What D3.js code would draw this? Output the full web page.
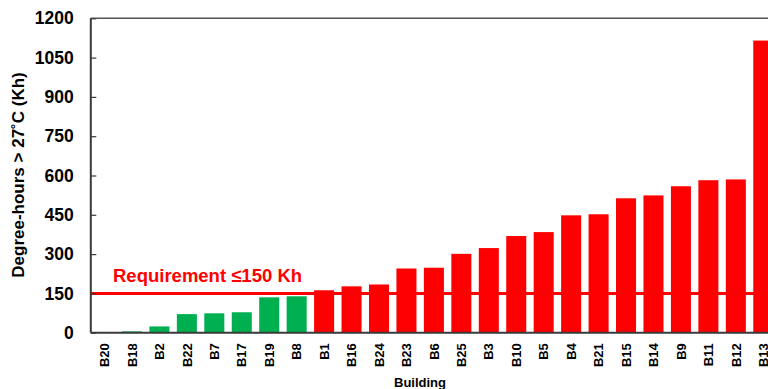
<!DOCTYPE html>
<html>
<head>
<meta charset="utf-8">
<script src="https://cdn.jsdelivr.net/npm/d3@7"></script>
<style>
  html, body { margin: 0; padding: 0; background: #fff; overflow: hidden; }
  svg { display: block; font-family: "Liberation Sans", Arial, sans-serif; }
</style>
</head>
<body>
<svg id="chart" width="768" height="389"></svg>
<script>
// ---- data ----
const buildings = ["B20","B18","B2","B22","B7","B17","B19","B8","B1","B16","B24","B23","B6","B25","B3","B10","B5","B4","B21","B15","B14","B9","B11","B12","B13"];
const degreeHours = [1,5,24,71,74,78,135,139,162,177,184,245,248,301,323,369,384,448,452,513,524,559,582,585,1115];
const yTicks = [0,150,300,450,600,750,900,1050,1200];
const requirement = 150;
const requirementLabel = "Requirement \u2264150 Kh";
const yTitle = "Degree-hours > 27\u02DAC (Kh)";
const xTitle = "Building";

// ---- layout ----
const W = 768, H = 389;
const pLeft = 90.8, pRight = 777, pTop = 18.3, pBottom = 332.7;
const svg = d3.select("#chart");

const x = d3.scaleBand().domain(buildings).range([pLeft, pRight]).paddingInner(0.27).paddingOuter(0.135);
const y = d3.scaleLinear().domain([0, 1200]).range([pBottom, pTop]);

const green = "#00B050", red = "#FF0000", axisCol = "#3a3a3a";

// requirement line (behind bars)
svg.append("line")
  .attr("x1", pLeft).attr("x2", pRight)
  .attr("y1", y(requirement)).attr("y2", y(requirement))
  .attr("stroke", red).attr("stroke-width", 3);

// bars
svg.append("g").selectAll("rect").data(buildings).join("rect")
  .attr("x", d => x(d))
  .attr("width", x.bandwidth())
  .attr("y", (d, i) => y(degreeHours[i]))
  .attr("height", (d, i) => y(0) - y(degreeHours[i]))
  .attr("fill", (d, i) => degreeHours[i] <= requirement ? green : red);

// requirement label
svg.append("text")
  .attr("x", 113).attr("y", 282)
  .attr("fill", red).attr("font-weight", "bold").attr("font-size", 18.5)
  .text(requirementLabel);

// top border
svg.append("line")
  .attr("x1", pLeft).attr("x2", W).attr("y1", pTop).attr("y2", pTop)
  .attr("stroke", "#555").attr("stroke-width", 1.5);

// y axis
const yAxis = svg.append("g").attr("transform", `translate(${pLeft},0)`)
  .call(d3.axisLeft(y).tickValues(yTicks).tickSize(-5.5).tickPadding(17).tickFormat(d3.format("d")));
yAxis.select(".domain").attr("stroke", axisCol).attr("stroke-width", 2).attr("d", `M0,${pTop}V${pBottom}`);
yAxis.selectAll(".tick line").attr("stroke", axisCol).attr("stroke-width", 1.2);
yAxis.selectAll(".tick text")
  .attr("font-size", 17.5).attr("font-weight", "bold").attr("fill", "#000")
  .attr("font-family", "'Liberation Sans', Arial, sans-serif");

// x axis
const xAxis = svg.append("g").attr("transform", `translate(0,${pBottom})`)
  .call(d3.axisBottom(x).tickSize(0).tickPadding(0));
xAxis.select(".domain").attr("stroke", axisCol).attr("stroke-width", 2).attr("d", `M${pLeft},0H${W}`);
xAxis.selectAll(".tick text")
  .attr("font-size", 13).attr("font-weight", "bold").attr("fill", "#000")
  .attr("font-family", "'Liberation Sans', Arial, sans-serif")
  .attr("text-anchor", "end")
  .attr("transform", "rotate(-90)")
  .attr("x", -10.5).attr("y", 0).attr("dy", "0.36em");

// axis titles
svg.append("text")
  .attr("transform", "translate(24,175) rotate(-90)")
  .attr("text-anchor", "middle")
  .attr("font-size", 17).attr("font-weight", "bold").attr("fill", "#000")
  .text(yTitle);

svg.append("text")
  .attr("x", 420).attr("y", 387)
  .attr("text-anchor", "middle")
  .attr("font-size", 13).attr("font-weight", "bold").attr("fill", "#000")
  .text(xTitle);
</script>
</body>
</html>
